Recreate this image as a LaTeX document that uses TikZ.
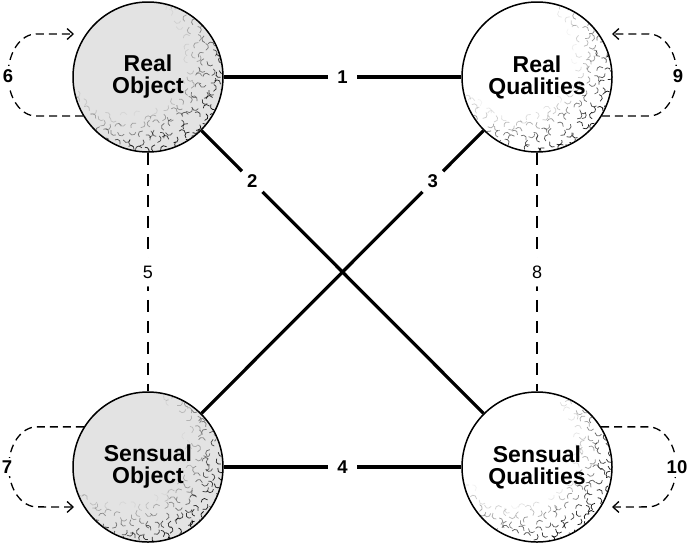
\documentclass[tikz,border=0pt]{standalone}
\usepackage{fontspec}
\setmainfont{Liberation Sans}
\usetikzlibrary{arrows.meta}
\begin{document}
\begin{tikzpicture}[x=1pt,y=-1pt,
  circ/.style={circle, draw, line width=1.5pt, minimum size=150pt, inner sep=0pt,
    font=\bfseries\fontsize{23}{22}\selectfont, align=center},
  strong/.style={line width=3.2pt},
  dsh/.style={line width=1.3pt, dash pattern=on 12pt off 9pt},
  lp/.style={line width=1.3pt, dash pattern=on 8pt off 5pt, -{Straight Barb[length=6pt,width=11pt]}},
  lab/.style={circle, fill=white, minimum size=29pt, inner sep=0pt, font=\bfseries\fontsize{18.5}{18}\selectfont},
  labthin/.style={lab, font=\fontsize{18}{18}\selectfont},
  looplab/.style={fill=white, inner sep=3pt, font=\bfseries\fontsize{18.5}{18}\selectfont}
]
\useasboundingbox (0,0) rectangle (690,542);
\fill[white] (0,0) rectangle (690,542);
% fills
\fill[black!11] (148,77) circle[radius=75];
\fill[black!11] (148,467) circle[radius=75];
% texture
\pgfmathsetseed{7}
\foreach \cx/\cy in {148/77,537/77,148/467,537/467}{
  \begin{scope}
    \clip (\cx,\cy) circle[radius=74];
    \foreach \i in {-10,...,10}{
      \foreach \j in {-10,...,10}{
        \pgfmathsetmacro\tpx{\i*8+rand*3}
        \pgfmathsetmacro\tpy{\j*8+rand*3}
        \pgfmathsetmacro\tdd{veclen(\tpx+22,\tpy+22)}
        \pgfmathsetmacro\tww{0.9*min(1,max(0,(\tdd-58)/42))}
        \pgfmathsetmacro\tang{rnd*360}
        \ifdim\tww pt>0.04pt
          \draw[opacity=\tww, line width=0.75pt]
            ({\cx+\tpx+3.5*cos(\tang)},{\cy+\tpy+3.5*sin(\tang)})
            arc[start angle=\tang, delta angle=150, radius=3.5];
        \fi
      }
    }
  \end{scope}
}
% nodes
\node[circ] (RO) at (148,77) {Real\\Object};
\node[circ] (RQ) at (537,77) {Real\\Qualities};
\node[circ] (SO) at (148,467) {Sensual\\Object};
\node[circ] (SQ) at (537,467) {Sensual\\Qualities};
% connectors
\draw[strong] (RO) -- node[lab] (l1) {1} (RQ);
\draw[strong] (RO) -- node[lab, pos=0.18] (l2) {2} (SQ);
\draw[strong] (RQ) -- node[lab, pos=0.18] (l3) {3} (SO);
\draw[strong] (SO) -- node[lab] (l4) {4} (SQ);
\draw[dsh] (RO) -- node[labthin] (l5) {5} (SO);
\draw[dsh] (RQ) -- node[labthin] (l8) {8} (SQ);
% loops
\coordinate (t6) at (74,34);
\coordinate (t9) at (612,34);
\coordinate (t7) at (74,507);
\coordinate (t10) at (612,507);
\draw[lp] (RO.211) -- ++(-47,0) arc[start angle=90, end angle=270, x radius=28, y radius=41] -- (t6);
\draw[lp] (RQ.-31) -- ++(47,0) arc[start angle=90, end angle=-90, x radius=28, y radius=41] -- (t9);
\draw[lp] (SO.148) -- ++(-47,0) arc[start angle=270, end angle=90, x radius=28, y radius=40] -- (t7);
\draw[lp] (SQ.32) -- ++(47,0) arc[start angle=-90, end angle=90, x radius=28, y radius=40] -- (t10);
\node[looplab] (l6) at (8,76) {6};
\node[looplab] (l9) at (678,76) {9};
\node[looplab] (l7) at (7,467) {7};
\node[looplab] (l10) at (677,467) {10};
\end{tikzpicture}
\end{document}
